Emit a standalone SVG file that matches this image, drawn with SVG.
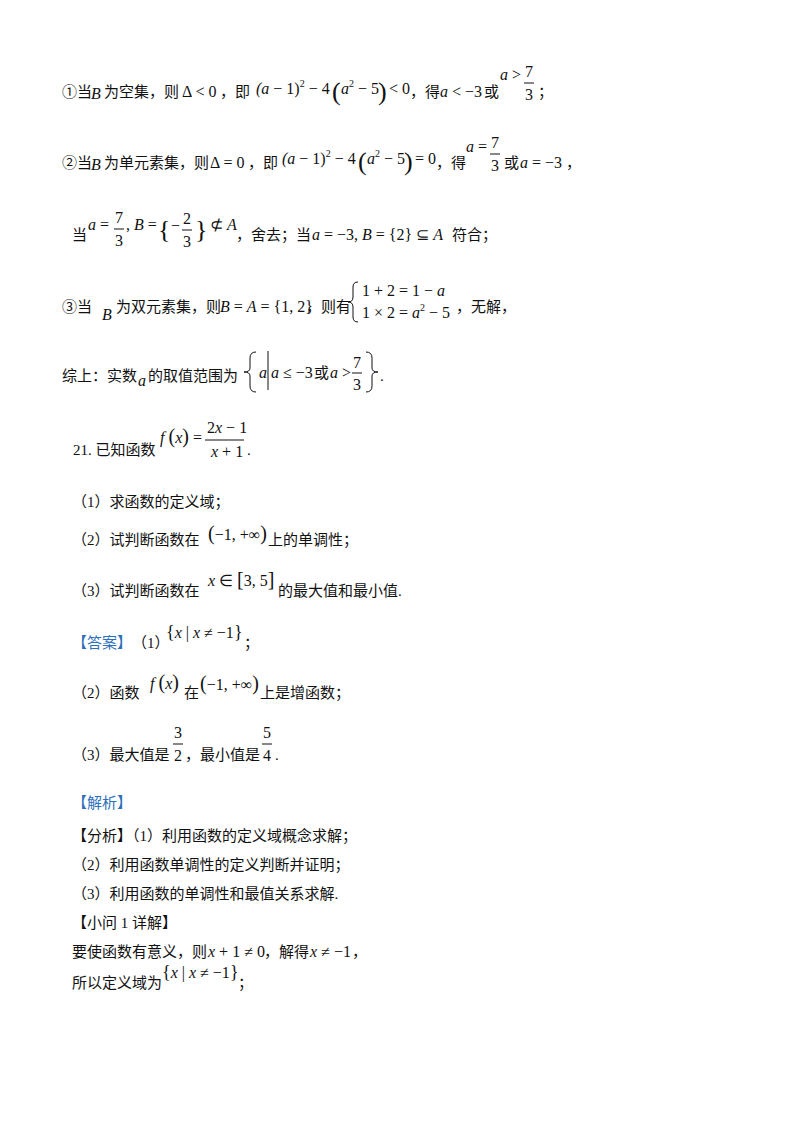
<svg xmlns="http://www.w3.org/2000/svg" width="800" height="1132" viewBox="0 0 800 1132">
<style>
.c{font-family:"Liberation Serif","Noto Sans CJK SC",serif;font-size:15px;fill:#111}
.m{font-family:"Liberation Serif",serif;font-size:16px;fill:#111}
.i{font-style:italic}
.s{font-size:10px}
.b{font-size:26px}
.blue{fill:#2c6fbb}
.fl{stroke:#111;stroke-width:1;fill:none}
</style>
<rect width="800" height="1132" fill="#fff"/>
<g id="l1">
<text class="c" x="62" y="97">①当</text><text class="m i" x="91" y="99">B</text>
<text class="c" x="104" y="97">为空集，则</text><text class="m" x="182" y="97">Δ &lt; 0</text>
<text class="c" x="220" y="97">，即</text>
<text class="m" x="256" y="94"><tspan class="i">(a</tspan> − 1)<tspan class="s" dy="-7">2</tspan><tspan dy="7"> − 4</tspan></text>
<text class="m b" x="332" y="100">(</text><text class="m" x="341" y="94"><tspan class="i">a</tspan><tspan class="s" dy="-7">2</tspan><tspan dy="7"> − 5</tspan></text><text class="m b" x="378" y="100">)</text>
<text class="m" x="389" y="94">&lt; 0</text>
<text class="c" x="410" y="97">，得</text><text class="m" x="440" y="97"><tspan class="i">a</tspan> &lt; −3</text><text class="c" x="484" y="97">或</text>
<text class="m" x="500" y="80"><tspan class="i">a</tspan> &gt;</text><text class="m" x="525" y="77">7</text><line class="fl" x1="524" y1="83" x2="534" y2="83"/><text class="m" x="525" y="100">3</text>
<text class="c" x="538" y="97">；</text>
</g>
<g id="l2">
<text class="c" x="62" y="168">②当</text><text class="m i" x="91" y="170">B</text>
<text class="c" x="104" y="168">为单元素集，则</text><text class="m" x="210" y="168">Δ = 0</text>
<text class="c" x="248" y="168">，即</text>
<text class="m" x="282" y="164"><tspan class="i">(a</tspan> − 1)<tspan class="s" dy="-7">2</tspan><tspan dy="7"> − 4</tspan></text>
<text class="m b" x="358" y="170">(</text><text class="m" x="367" y="164"><tspan class="i">a</tspan><tspan class="s" dy="-7">2</tspan><tspan dy="7"> − 5</tspan></text><text class="m b" x="404" y="170">)</text>
<text class="m" x="415" y="164">= 0</text>
<text class="c" x="436" y="168">，得</text>
<text class="m" x="466" y="152"><tspan class="i">a</tspan> =</text><text class="m" x="491" y="148">7</text><line class="fl" x1="490" y1="154" x2="500" y2="154"/><text class="m" x="491" y="171">3</text>
<text class="c" x="504" y="168">或</text><text class="m" x="520" y="168"><tspan class="i">a</tspan> = −3</text><text class="c" x="566" y="168">，</text>
</g>
<g id="l3">
<text class="c" x="72" y="240">当</text>
<text class="m" x="88" y="230"><tspan class="i">a</tspan> =</text><text class="m" x="115" y="223">7</text><line class="fl" x1="114" y1="229" x2="124" y2="229"/><text class="m" x="115" y="246">3</text>
<text class="m" x="126" y="230">, <tspan class="i">B</tspan> =</text>
<text class="m b" x="158" y="238">{</text><text class="m" x="171" y="231">−</text><text class="m" x="183" y="224">2</text><line class="fl" x1="182" y1="230" x2="192" y2="230"/><text class="m" x="183" y="247">3</text><text class="m b" x="195" y="238">}</text>
<text class="m" x="210" y="230">⊄ <tspan class="i">A</tspan></text>
<text class="c" x="236" y="240">，舍去；当</text><text class="m" x="312" y="240"><tspan class="i">a</tspan> = −3, <tspan class="i">B</tspan> = {2} ⊆ <tspan class="i">A</tspan></text>
<text class="c" x="452" y="240">符合；</text>
</g>
<g id="l4">
<text class="c" x="62" y="312">③当</text><text class="m i" x="102" y="320">B</text>
<text class="c" x="116" y="312">为双元素集，则</text><text class="m" x="220" y="312"><tspan class="i">B</tspan> = <tspan class="i">A</tspan> = {1, 2}</text>
<text class="c" x="306" y="312">，则有</text>
<path class="fl" d="M358 282 q-5 0 -5 5 v10 q0 5 -5 5 q5 0 5 5 v10 q0 5 5 5"/>
<text class="m" x="362" y="296">1 + 2 = 1 − <tspan class="i">a</tspan></text>
<text class="m" x="362" y="318">1 × 2 = <tspan class="i">a</tspan><tspan class="s" dy="-7">2</tspan><tspan dy="7"> − 5</tspan></text>
<text class="c" x="456" y="312">，无解，</text>
</g>
<g id="l5">
<text class="c" x="62" y="381">综上：实数</text><text class="m i" x="138" y="386">a</text><text class="c" x="148" y="381">的取值范围为</text>
<path class="fl" d="M256 352 q-6 0 -6 6 v10 q0 4 -6 4 q6 0 6 4 v10 q0 6 6 6"/>
<text class="m i" x="259" y="378">a</text><line class="fl" x1="268" y1="351" x2="268" y2="390"/>
<text class="m" x="271" y="378"><tspan class="i">a</tspan> ≤ −3</text><text class="c" x="314" y="378">或</text><text class="m" x="330" y="378"><tspan class="i">a</tspan> &gt;</text>
<text class="m" x="353" y="368">7</text><line class="fl" x1="352" y1="373" x2="362" y2="373"/><text class="m" x="353" y="390">3</text>
<path class="fl" d="M366 352 q6 0 6 6 v10 q0 4 6 4 q-6 0 -6 4 v10 q0 6 -6 6"/><text class="c" x="380" y="381">.</text>
</g>
<g id="q21">
<text class="c" x="73" y="455">21. 已知函数</text>
<text class="m" x="160" y="443"><tspan class="i">f</tspan> <tspan font-size="20">(</tspan><tspan class="i">x</tspan><tspan font-size="20">)</tspan> =</text>
<text class="m" x="207" y="433">2<tspan class="i">x</tspan> − 1</text><line class="fl" x1="205" y1="440" x2="244" y2="440"/><text class="m" x="211" y="457"><tspan class="i">x</tspan> + 1</text>
<text class="c" x="247" y="455">.</text>
<text class="c" x="72" y="507">（1）求函数的定义域；</text>
<text class="c" x="72" y="545">（2）试判断函数在</text><text class="m" x="208" y="540"><tspan font-size="20">(</tspan>−1, +∞<tspan font-size="20">)</tspan></text><text class="c" x="268" y="545">上的单调性；</text>
<text class="c" x="72" y="596">（3）试判断函数在</text><text class="m" x="208" y="586"><tspan class="i">x</tspan> ∈ <tspan font-size="20">[</tspan>3, 5<tspan font-size="20">]</tspan></text><text class="c" x="278" y="596">的最大值和最小值.</text>
</g>
<g id="ans">
<text class="c blue" x="72" y="648">【答案】</text><text class="c" x="132" y="648">（1）</text>
<text class="m" x="166" y="638"><tspan font-size="18">{</tspan><tspan class="i">x</tspan> | <tspan class="i">x</tspan> ≠ −1<tspan font-size="18">}</tspan></text><text class="c" x="244" y="648">；</text>
<text class="c" x="72" y="698">（2）函数</text><text class="m" x="150" y="689"><tspan class="i">f</tspan> <tspan font-size="20">(</tspan><tspan class="i">x</tspan><tspan font-size="20">)</tspan></text>
<text class="c" x="184" y="698">在</text><text class="m" x="200" y="690"><tspan font-size="20">(</tspan>−1, +∞<tspan font-size="20">)</tspan></text><text class="c" x="260" y="698">上是增函数；</text>
<text class="c" x="72" y="760">（3）最大值是</text><text class="m" x="174" y="738">3</text><line class="fl" x1="173" y1="744" x2="183" y2="744"/><text class="m" x="174" y="761">2</text>
<text class="c" x="185" y="760">，最小值是</text><text class="m" x="263" y="738">5</text><line class="fl" x1="262" y1="744" x2="272" y2="744"/><text class="m" x="263" y="761">4</text><text class="c" x="275" y="760">.</text>
</g>
<g id="jx">
<text class="c blue" x="72" y="808">【解析】</text>
<text class="c" x="72" y="841">【分析】（1）利用函数的定义域概念求解；</text>
<text class="c" x="72" y="870">（2）利用函数单调性的定义判断并证明；</text>
<text class="c" x="72" y="899">（3）利用函数的单调性和最值关系求解.</text>
<text class="c" x="72" y="928">【小问 1 详解】</text>
<text class="c" x="72" y="957">要使函数有意义，则</text><text class="m" x="208" y="957"><tspan class="i">x</tspan> + 1 ≠ 0</text><text class="c" x="264" y="957">，解得</text><text class="m" x="310" y="957"><tspan class="i">x</tspan> ≠ −1</text><text class="c" x="352" y="957">，</text>
<text class="c" x="72" y="988">所以定义域为</text><text class="m" x="162" y="978"><tspan font-size="18">{</tspan><tspan class="i">x</tspan> | <tspan class="i">x</tspan> ≠ −1<tspan font-size="18">}</tspan></text><text class="c" x="238" y="988">；</text>
</g>
</svg>
